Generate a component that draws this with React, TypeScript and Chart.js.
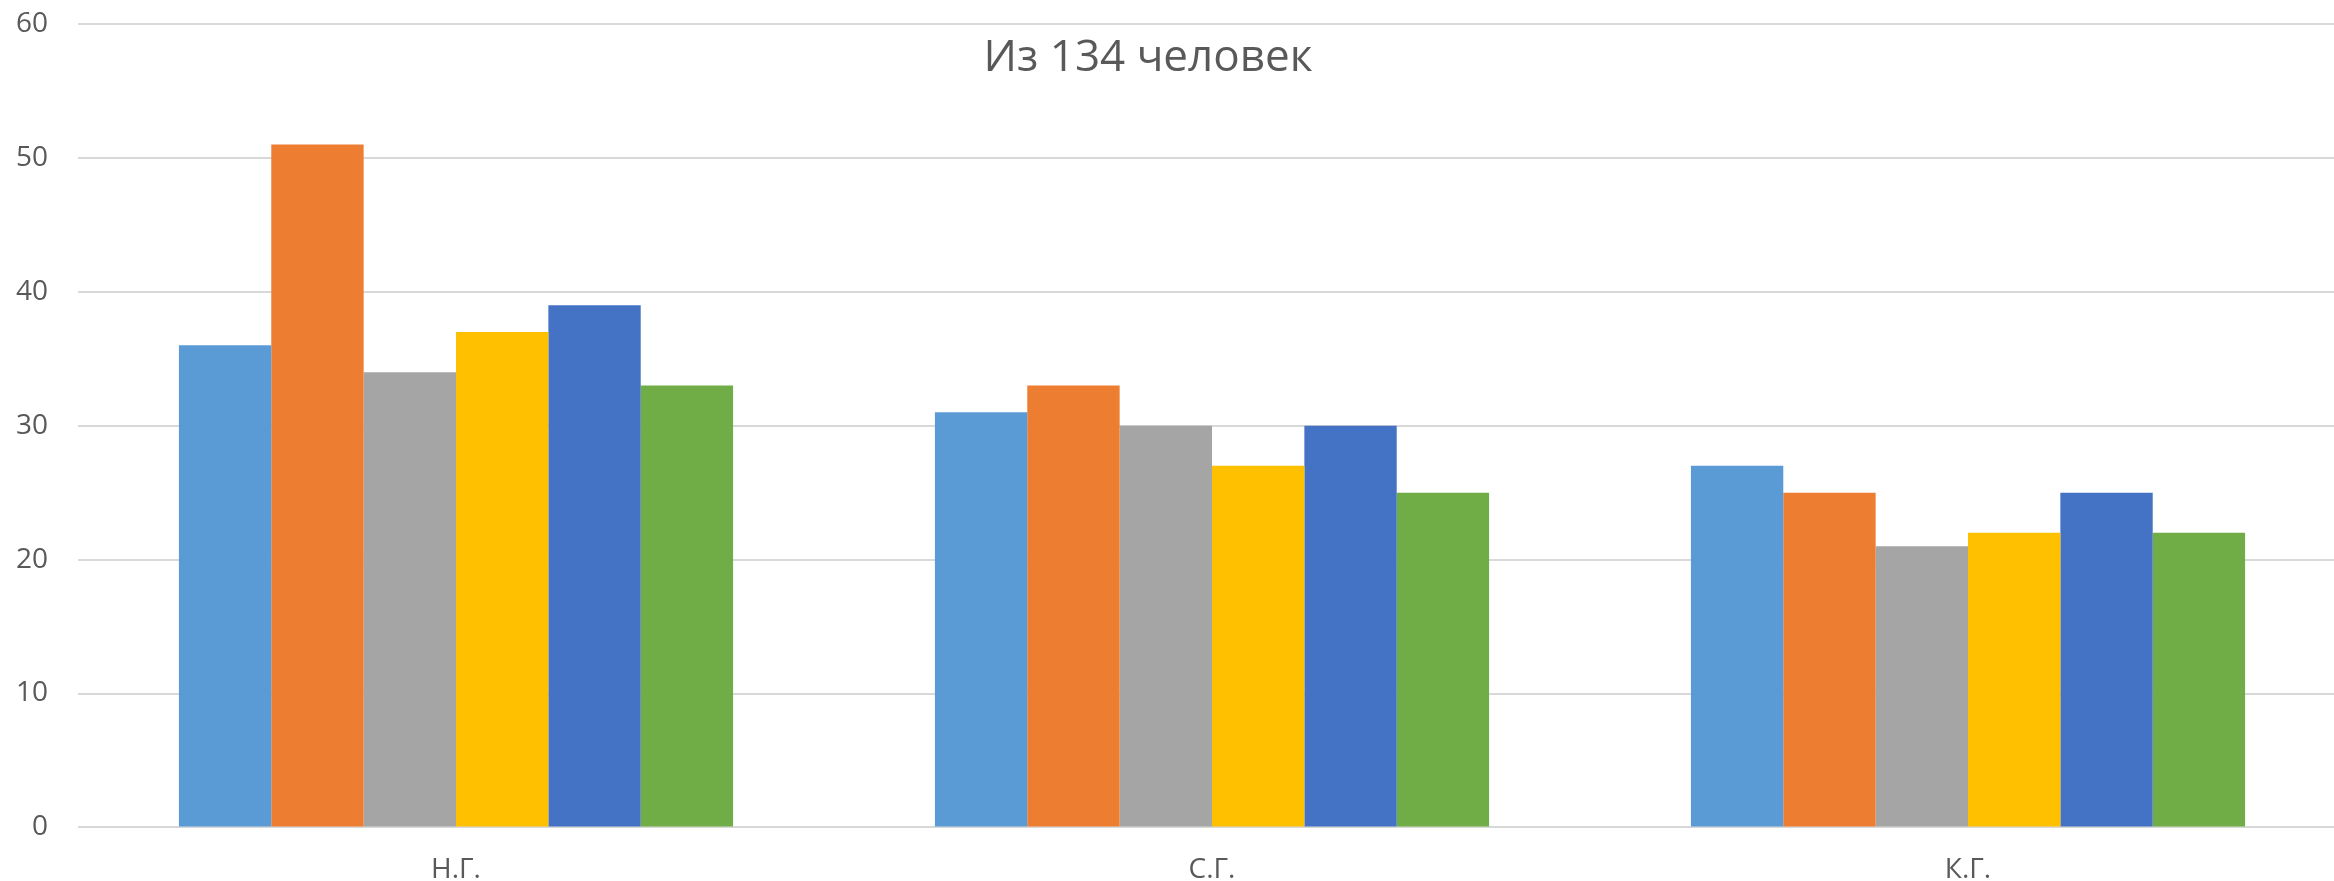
import React, { useEffect, useRef } from "react";
import { Chart, registerables } from "chart.js";

Chart.register(...registerables);

const categories = ["Н.Г.", "С.Г.", "К.Г."];
const series1 = [36, 31, 27];
const series2 = [51, 33, 25];
const series3 = [34, 30, 21];
const series4 = [37, 27, 22];
const series5 = [39, 30, 25];
const series6 = [33, 25, 22];
const seriesColors = ["#5B9BD5", "#ED7D31", "#A5A5A5", "#FFC000", "#4472C4", "#70AD47"];
const titleText = "Из 134 человек";
const yMax = 60;
const yStep = 10;

const FONT = "'Open Sans', 'Noto Sans', sans-serif";

export default function App() {
  const ref = useRef<HTMLCanvasElement | null>(null);

  useEffect(() => {
    document.body.style.margin = "0";
    document.body.style.overflow = "hidden";
    const canvas = ref.current;
    if (!canvas) return;
    const all = [series1, series2, series3, series4, series5, series6];
    const titlePlugin = {
      id: "overlayTitle",
      afterDraw(chart: any) {
        const ctx = chart.ctx;
        ctx.save();
        ctx.font = `44px ${FONT}`;
        ctx.fillStyle = "#595959";
        ctx.textAlign = "center";
        ctx.textBaseline = "middle";
        ctx.fillText(titleText, 1148, 58);
        ctx.restore();
      },
    };
    const chart = new Chart(canvas, {
      type: "bar",
      data: {
        labels: categories,
        datasets: all.map((d, i) => ({
          label: `Ряд ${i + 1}`,
          data: d,
          backgroundColor: seriesColors[i],
          borderWidth: 0,
          barPercentage: 1,
          categoryPercentage: 0.733,
        })),
      },
      options: {
        responsive: false,
        animation: false,
        layout: { padding: { top: 24, left: 0, right: 0, bottom: 0 } },
        plugins: {
          legend: { display: false },
          title: { display: false },
          tooltip: { enabled: false },
        },
        scales: {
          x: {
            grid: { display: false, drawTicks: false },
            border: { display: false },
            ticks: {
              color: "#595959",
              font: { family: FONT, size: 28 },
              padding: 26,
            },
          },
          y: {
            min: 0,
            max: yMax,
            ticks: {
              stepSize: yStep,
              color: "#595959",
              font: { family: FONT, size: 28 },
              padding: 30,
            },
            grid: { color: "#D9D9D9", lineWidth: 2, drawTicks: false },
            border: { display: false },
            afterFit(scale: any) {
              scale.width = 78;
              scale.paddingTop = 0;
              scale.paddingBottom = 0;
            },
          },
        },
      },
      plugins: [titlePlugin],
    });
    return () => chart.destroy();
  }, []);

  return <canvas ref={ref} width={2346} height={913} style={{ display: "block" }} />;
}
